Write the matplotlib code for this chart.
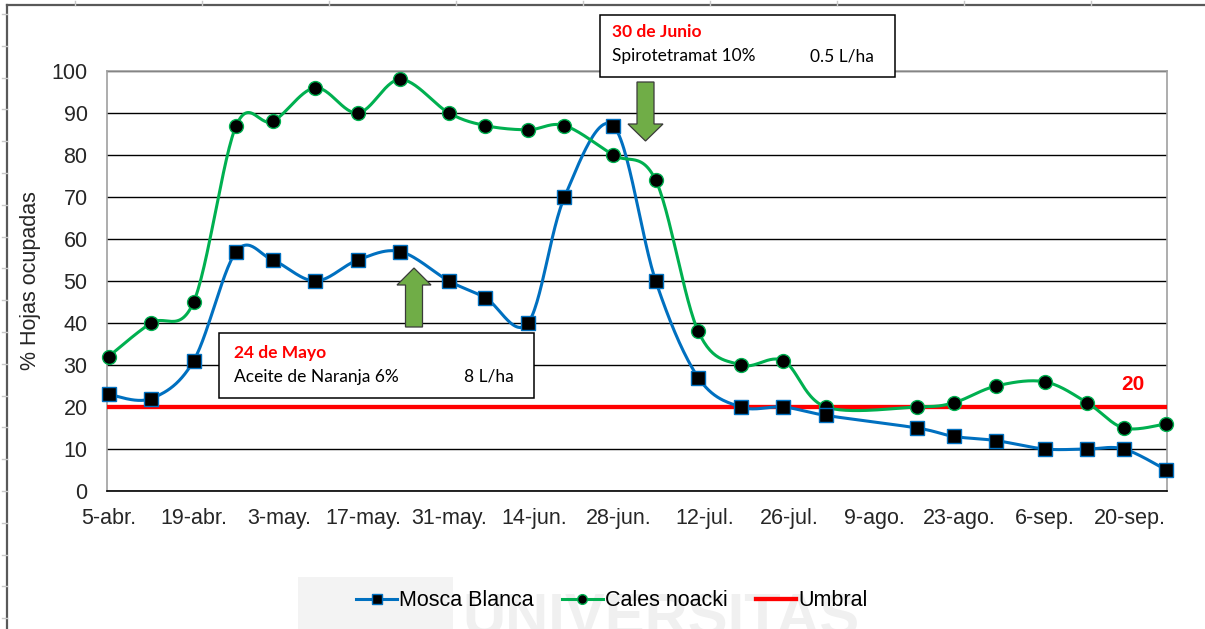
import numpy as np
import pandas as pd
import matplotlib
matplotlib.use("Agg")
import matplotlib.pyplot as plt
import matplotlib.dates as mdates
from matplotlib.patches import Rectangle, Polygon
from matplotlib.lines import Line2D

# fechas de muestreo
fechas = ['2019-04-05', '2019-04-12', '2019-04-19', '2019-04-26', '2019-05-02',
          '2019-05-09', '2019-05-16', '2019-05-23', '2019-05-31', '2019-06-06',
          '2019-06-13', '2019-06-19', '2019-06-27', '2019-07-04', '2019-07-11',
          '2019-07-18', '2019-07-25', '2019-08-01', '2019-08-16', '2019-08-22',
          '2019-08-29', '2019-09-06', '2019-09-13', '2019-09-19', '2019-09-26']

mosca_blanca = [23, 22, 31, 57, 55, 50, 55, 57, 50, 46, 40, 70, 87, 50, 27,
                20, 20, 18, 15, 13, 12, 10, 10, 10, 5]
cales_noacki = [32, 40, 45, 87, 88, 96, 90, 98, 90, 87, 86, 87, 80, 74, 38,
                30, 31, 20, 20, 21, 25, 26, 21, 15, 16]
umbral = 20

ticks_fechas = ['2019-04-05', '2019-04-19', '2019-05-03', '2019-05-17', '2019-05-31',
                '2019-06-14', '2019-06-28', '2019-07-12', '2019-07-26', '2019-08-09',
                '2019-08-23', '2019-09-06', '2019-09-20']
ticks_labels = ['5-abr.', '19-abr.', '3-may.', '17-may.', '31-may.', '14-jun.',
                '28-jun.', '12-jul.', '26-jul.', '9-ago.', '23-ago.', '6-sep.', '20-sep.']

W, H = 1205, 629
plt.rcParams['font.family'] = ['Liberation Sans', 'DejaVu Sans']

x = mdates.date2num(pd.to_datetime(fechas))
xt = mdates.date2num(pd.to_datetime(ticks_fechas))
x0 = x[0]

# escala en pixeles (para suavizar como Excel)
SX, SY = 6.08, 4.2


def suave(xs, ys, n=30):
    P = np.column_stack([np.asarray(xs) * SX, np.asarray(ys, dtype=float) * SY])
    P = np.vstack([P[0], P, P[-1]])
    t = np.linspace(0, 1, n)[:, None]
    segs = []
    for i in range(1, len(P) - 2):
        p0, p1, p2, p3 = P[i - 1], P[i], P[i + 1], P[i + 2]
        c1 = p1 + (p2 - p0) / 6
        c2 = p2 - (p3 - p1) / 6
        segs.append((1 - t) ** 3 * p1 + 3 * (1 - t) ** 2 * t * c1
                    + 3 * (1 - t) * t ** 2 * c2 + t ** 3 * p2)
    s = np.vstack(segs)
    return s[:, 0] / SX, s[:, 1] / SY


fig = plt.figure(figsize=(W / 100, H / 100), dpi=100)
fig.patch.set_facecolor('white')

# fondo: marco y marca de agua
bg = fig.add_axes([0, 0, 1, 1], zorder=-1)
bg.set_xlim(0, W)
bg.set_ylim(H, 0)
bg.axis('off')
bg.plot([7, 7], [5, H], color='#595959', lw=1.6)
bg.plot([7, W], [5, 5], color='#595959', lw=1.6)
for tx in np.arange(75, W, 127):
    bg.plot([tx, tx], [1, 5], color='#c8c8c8', lw=1)
for ty in np.arange(14, H, 31.8):
    bg.plot([2, 7], [ty, ty], color='#c8c8c8', lw=1)
bg.add_patch(Rectangle((298, 577), 155, 60, facecolor='#f3f3f3', edgecolor='none'))
bg.text(462, 636, 'UNIVERSITAS', fontsize=43, fontweight='bold', color='#f0f0f0',
        ha='left', va='baseline')

ax = fig.add_axes([107 / W, 1 - 491 / H, (1167 - 107) / W, (491 - 71) / H])

ax.axhline(umbral, color='#ff0000', lw=3.1, zorder=3)

xs, ys = suave(x, mosca_blanca)
ax.plot(xs, ys, color='#0070c0', lw=2.2, zorder=4)
ax.plot(x, mosca_blanca, ls='none', marker='s', ms=10, mfc='black', mec='#0070c0',
        mew=1, zorder=6, clip_on=False)

xs, ys = suave(x, cales_noacki)
ax.plot(xs, ys, color='#00b050', lw=2.2, zorder=4)
ax.plot(x, cales_noacki, ls='none', marker='o', ms=10, mfc='black', mec='#00b050',
        mew=1, zorder=5, clip_on=False)

ax.set_xlim(x0 - 0.25, x0 + 174.1)
ax.set_ylim(0, 100)
ax.set_yticks(range(0, 101, 10))
ax.set_xticks(xt)
ax.set_xticklabels(ticks_labels)
ax.tick_params(axis='both', length=0, labelsize=15.5, colors='#262626')
ax.tick_params(axis='x', pad=12)
ax.tick_params(axis='y', pad=14)
ax.grid(axis='y', color='black', lw=1.0)
ax.set_axisbelow(True)
for s in ['left', 'top', 'right']:
    ax.spines[s].set_color('#a0a0a0')
    ax.spines[s].set_linewidth(1.2)
ax.spines['bottom'].set_color('black')
ax.spines['bottom'].set_linewidth(1.2)
ax.set_ylabel('% Hojas ocupadas', fontsize=15.5, color='#262626')
ax.yaxis.set_label_coords((41 - 107) / (1167 - 107), 0.5)

handles = [
    Line2D([], [], color='#0070c0', lw=2.2, marker='s', ms=7, mfc='black', mec='#0070c0'),
    Line2D([], [], color='#00b050', lw=2.2, marker='o', ms=7, mfc='black', mec='#00b050'),
    Line2D([], [], color='#ff0000', lw=3.1),
]
ax.legend(handles, ['Mosca Blanca', 'Cales noacki', 'Umbral'], loc='center',
          bbox_to_anchor=(612 / W, 1 - 601 / H), bbox_transform=fig.transFigure,
          ncol=3, frameon=False, fontsize=15.5, handlelength=1.9, handletextpad=0.1,
          columnspacing=1.3)

# anotaciones
ov = fig.add_axes([0, 0, 1, 1], zorder=5)
ov.set_xlim(0, W)
ov.set_ylim(H, 0)
ov.axis('off')

anot_font = ['Lato', 'DejaVu Sans']
fs_anot = 12.5
ov.add_patch(Rectangle((219, 333), 315, 65, facecolor='white', edgecolor='black', lw=1.1))
ov.text(234, 353, '24 de Mayo', color='#ff0000', fontweight='bold', fontsize=fs_anot,
        family=anot_font, va='center')
ov.text(234, 377, 'Aceite de Naranja 6%', color='black', fontsize=fs_anot,
        family=anot_font, va='center')
ov.text(464, 377, '8 L/ha', color='black', fontsize=fs_anot, family=anot_font, va='center')

ov.add_patch(Rectangle((600, 15), 295, 62, facecolor='white', edgecolor='black', lw=1.1))
ov.text(612, 32, '30 de Junio', color='#ff0000', fontweight='bold', fontsize=fs_anot,
        family=anot_font, va='center')
ov.text(612, 56, 'Spirotetramat 10%', color='black', fontsize=fs_anot,
        family=anot_font, va='center')
ov.text(810, 56, '0.5 L/ha', color='black', fontsize=fs_anot, family=anot_font, va='center')

flecha_arriba = [(414, 268), (431, 285), (422.5, 285), (422.5, 327), (405.5, 327),
                 (405.5, 285), (397, 285)]
flecha_abajo = [(637, 82), (654, 82), (654, 124), (663, 124), (645.5, 141),
                (628, 124), (637, 124)]
for pts in (flecha_arriba, flecha_abajo):
    ov.add_patch(Polygon(pts, closed=True, facecolor='#70ad47', edgecolor='#3a3a3a', lw=0.9))

ov.text(1133, 385, '20', color='#ff0000', fontweight='bold', fontsize=15,
        ha='center', va='center')

fig.savefig('out.png', dpi=100)
